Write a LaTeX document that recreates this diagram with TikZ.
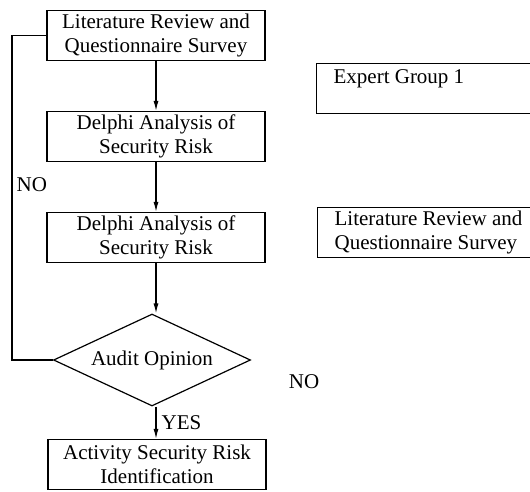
\documentclass[tikz,border=0pt]{standalone}
\usepackage{fontspec}
\setmainfont{Liberation Serif}
\usetikzlibrary{shapes.geometric,arrows.meta}

\begin{document}
\begin{tikzpicture}
  [x=1pt,y=-1pt,
   line width=1.2pt,
   font=\fontsize{21}{24}\selectfont,
   stepBox/.style={draw,rectangle,align=center,minimum width=218pt,minimum height=50pt,inner sep=1pt},
   sideBox/.style={draw,rectangle,align=flush left,text width=230pt,minimum height=50pt,inner xsep=17pt,inner ysep=1pt,anchor=north west},
   auditN/.style={draw,diamond,minimum width=197pt,minimum height=92pt,inner sep=0pt,aspect=2.14},
   flowArr/.style={-{Latex[length=10pt,width=5pt]}},
  ]
 \useasboundingbox (0,0) rectangle (530,491);

 % main chain
 \node[stepBox] (review) at (156,35.5) {Literature Review and\\Questionnaire Survey};
 \node[stepBox] (delphiA) at (156,136.5) {Delphi Analysis of\\Security Risk};
 \node[stepBox] (delphiB) at (156,237.5) {Delphi Analysis of\\Security Risk};
 \node[auditN] (audit) at (152,360) {Audit Opinion};
 \node[stepBox] (ident) at (157,464.5) {Activity Security Risk\\Identification};

 % side boxes
 \node[sideBox] (expert) at (316,63) {Expert Group 1\\\mbox{}};
 \node[sideBox] (sideReview) at (317,207) {Literature Review and\\Questionnaire Survey};

 \draw[flowArr] (review.south -| delphiA) -- (delphiA);
 \draw[flowArr] (delphiA) -- (delphiB);
 \draw[flowArr] (delphiB) -- (audit.north -| delphiB);
 \draw[flowArr] (audit.south -| delphiB) -- node[right,inner sep=5pt] (yesLbl) {YES} (ident.north -| delphiB);
 \draw (audit.west) -- ++(-41,0) |- (review.west);

 \node[anchor=west,inner sep=0pt] (noLeft) at (16,185) {NO};
 \node[inner sep=0pt] (noRight) at (304,382) {NO};
\end{tikzpicture}
\end{document}
